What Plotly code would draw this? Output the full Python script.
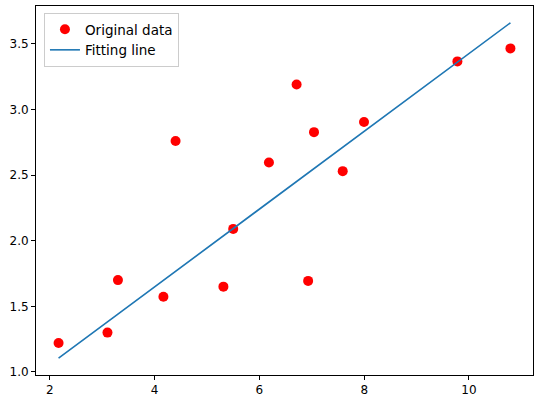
import plotly.graph_objects as go

x_train = [3.3, 4.4, 5.5, 6.71, 6.93, 4.168, 9.779, 6.182, 7.59, 2.167,
           7.042, 10.791, 5.313, 7.997, 3.1]
y_train = [1.7, 2.76, 2.09, 3.19, 1.694, 1.573, 3.366, 2.596, 2.53, 1.221,
           2.827, 3.465, 1.65, 2.904, 1.3]
y_pred = [1.441, 1.767, 2.093, 2.451, 2.516, 1.698, 3.361, 2.295, 2.712, 1.105,
          2.550, 3.660, 2.037, 2.833, 1.382]

fig = go.Figure()
fig.add_trace(go.Scatter(x=x_train, y=y_train, mode="markers", name="Original data",
                         marker=dict(color="red", size=10)))
fig.add_trace(go.Scatter(x=x_train, y=y_pred, mode="lines", name="Fitting line",
                         line=dict(color="#1f77b4", width=1.6)))

axis_common = dict(showgrid=False, zeroline=False, showline=True, linecolor="black",
                   linewidth=1, mirror=True, ticks="outside", ticklen=4,
                   tickcolor="black", tickfont=dict(size=12, color="black"),
                   automargin=False)
fig.update_layout(
    width=545, height=399,
    margin=dict(l=36, r=12, t=6, b=24),
    paper_bgcolor="white", plot_bgcolor="white",
    font=dict(family="DejaVu Sans", size=12, color="black"),
    xaxis=dict(range=[1.736, 11.222], tickvals=[2, 4, 6, 8, 10], **axis_common),
    yaxis=dict(range=[0.977, 3.788], tickvals=[1.0, 1.5, 2.0, 2.5, 3.0, 3.5],
               tickformat=".1f", **axis_common),
    legend=dict(x=0.016, y=0.981, xanchor="left", yanchor="top",
                bgcolor="rgba(255,255,255,0.8)", bordercolor="#cccccc", borderwidth=1,
                font=dict(size=13.5), tracegroupgap=0, itemwidth=30),
    showlegend=True,
)
fig.write_html("out.html", post_script="document.body.style.margin='0';",
               config={"displayModeBar": False})
